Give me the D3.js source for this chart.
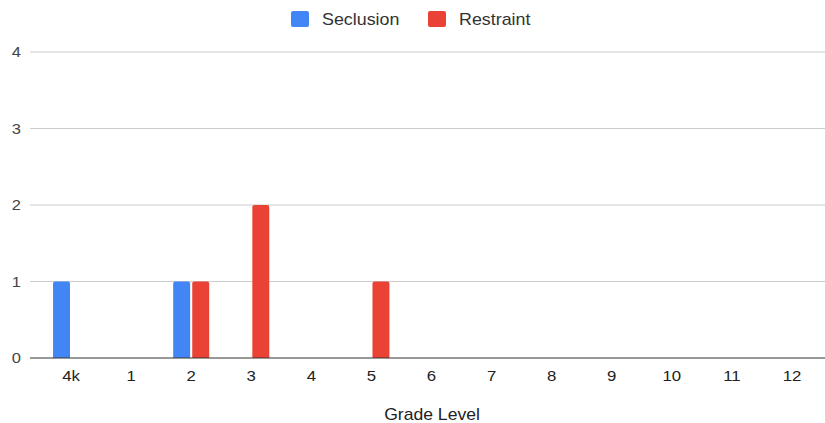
<!DOCTYPE html>
<html>
<head>
<meta charset="utf-8">
<script src="https://cdn.jsdelivr.net/npm/d3@7"></script>
<style>
  html, body { margin: 0; padding: 0; background: #fff; }
  svg { display: block; font-family: "Liberation Sans", Arial, sans-serif; }
</style>
</head>
<body>
<svg id="chart" width="825" height="423"></svg>
<script>
// Grade levels along the x axis
const grades = ["4k", "1", "2", "3", "4", "5", "6", "7", "8", "9", "10", "11", "12"];
// Incident counts per grade
const seclusion = [1, 0, 1, 0, 0, 0, 0, 0, 0, 0, 0, 0, 0];
const restraint = [0, 0, 1, 2, 0, 1, 0, 0, 0, 0, 0, 0, 0];
const yTicks = [0, 1, 2, 3, 4];

const seriesNames = ["Seclusion", "Restraint"];
const seriesColors = ["#4285F4", "#EA4335"];
const seriesValues = [seclusion, restraint];

const svg = d3.select("#chart");

const x = d3.scaleBand().domain(grades).range([41, 822]).padding(0);
const y = d3.scaleLinear().domain([0, 4]).range([358, 52]);
const inner = d3.scaleBand().domain(seriesNames).range([0, 36]).paddingInner(0.11);

// Places a label at (px, py), widened slightly along x
function label(sel, px, py, size, anchor, sx, fill) {
  const g = sel.append("g").attr("transform", `translate(${px},${py}) scale(${sx},1)`);
  return g.append("text")
    .attr("dy", "0.35em")
    .attr("text-anchor", anchor)
    .attr("font-size", size)
    .attr("fill", fill);
}

// Horizontal gridlines
svg.append("g")
  .selectAll("line")
  .data(yTicks.filter(d => d !== 0))
  .join("line")
  .attr("x1", 30).attr("x2", 825)
  .attr("y1", d => y(d)).attr("y2", d => y(d))
  .attr("stroke", "#cccccc").attr("stroke-width", 1);

// Y tick labels
const yLab = svg.append("g");
yTicks.forEach(t => label(yLab, 21, y(t), 15, "end", 1.1, "#444").text(t));

// Bars with slightly rounded tops
const rows = [];
grades.forEach((g, i) => {
  seriesNames.forEach((s, j) => {
    rows.push({ grade: g, series: s, value: seriesValues[j][i], color: seriesColors[j] });
  });
});

const r = 2;
svg.append("g")
  .selectAll("path")
  .data(rows.filter(d => d.value > 0))
  .join("path")
  .attr("fill", d => d.color)
  .attr("d", d => {
    const x0 = x(d.grade) + (x.bandwidth() - 36) / 2 + inner(d.series);
    const w = inner.bandwidth();
    const y0 = y(d.value), y1 = y(0);
    return `M${x0},${y1} L${x0},${y0 + r} Q${x0},${y0} ${x0 + r},${y0} L${x0 + w - r},${y0} Q${x0 + w},${y0} ${x0 + w},${y0 + r} L${x0 + w},${y1} Z`;
  });

// Baseline
svg.append("line")
  .attr("x1", 30).attr("x2", 825)
  .attr("y1", y(0)).attr("y2", y(0))
  .attr("stroke", "#333").attr("stroke-width", 1);

// X tick labels
const xLab = svg.append("g");
grades.forEach(g => label(xLab, x(g) + x.bandwidth() / 2, 376, 15, "middle", 1.12, "#222").text(g));

// X axis title
label(svg, 432, 414, 16, "middle", 1.1, "#222").text("Grade Level");

// Legend
const legendX = [291, 428];
seriesNames.forEach((s, i) => {
  svg.append("rect")
    .attr("x", legendX[i]).attr("y", 11)
    .attr("width", 18).attr("height", 16).attr("rx", 2)
    .attr("fill", seriesColors[i]);
  label(svg, legendX[i] + 31, 19, 17, "start", 1.05, "#333").text(s);
});
</script>
</body>
</html>
